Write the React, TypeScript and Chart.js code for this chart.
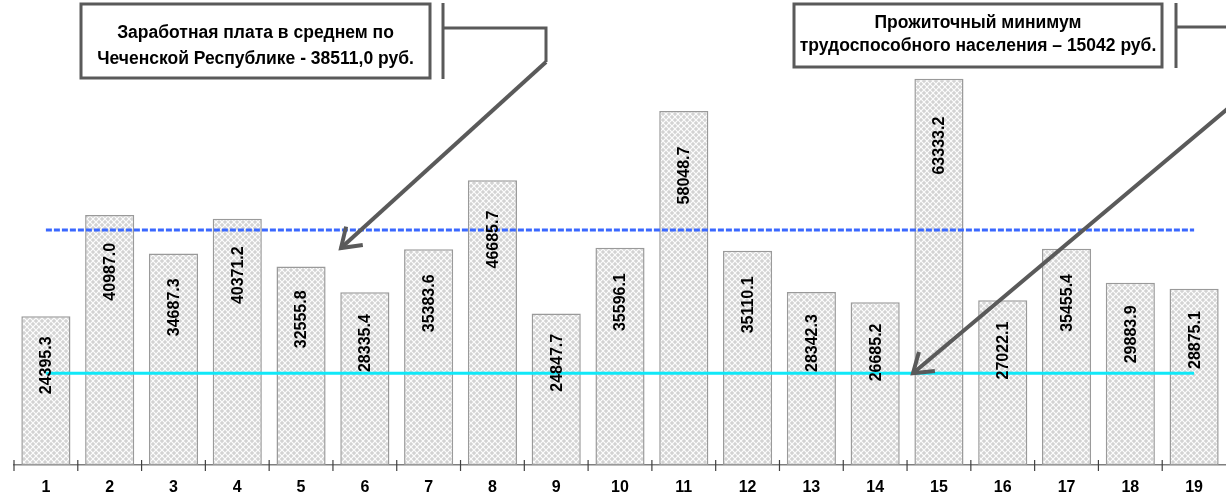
import React, { useEffect, useRef } from "react";
import { Chart, registerables } from "chart.js";

Chart.register(...registerables);

const categories = ["1", "2", "3", "4", "5", "6", "7", "8", "9", "10", "11", "12", "13", "14", "15", "16", "17", "18", "19"];
const wages = [24395.3, 40987.0, 34687.3, 40371.2, 32555.8, 28335.4, 35383.6, 46685.7, 24847.7, 35596.1, 58048.7, 35110.1, 28342.3, 26685.2, 63333.2, 27022.1, 35455.4, 29883.9, 28875.1];
const averageWage = 38511.0;
const subsistenceMinimum = 15042;
const calloutAverage = ["Заработная плата в среднем по", "Чеченской Республике - 38511,0 руб."];
const calloutMinimum = ["Прожиточный минимум", "трудоспособного населения – 15042 руб."];

const FONT = '"Liberation Sans", Arial, sans-serif';

function makePattern(): CanvasPattern | string {
  const c = document.createElement("canvas");
  c.width = 6;
  c.height = 6;
  const g = c.getContext("2d");
  if (!g) return "#dddddd";
  g.fillStyle = "#d3d3d3";
  g.fillRect(0, 0, 6, 6);
  g.strokeStyle = "rgba(255,255,255,0.95)";
  g.lineWidth = 1.2;
  g.beginPath();
  g.moveTo(0, 0);
  g.lineTo(6, 6);
  g.moveTo(6, 0);
  g.lineTo(0, 6);
  g.stroke();
  const p = g.createPattern(c, "repeat");
  return p || "#dddddd";
}

function arrowHead(ctx: CanvasRenderingContext2D, fx: number, fy: number, tx: number, ty: number) {
  const ang = Math.atan2(ty - fy, tx - fx);
  const len = 22;
  const spread = 0.6;
  ctx.beginPath();
  ctx.moveTo(tx - len * Math.cos(ang - spread), ty - len * Math.sin(ang - spread));
  ctx.lineTo(tx, ty);
  ctx.lineTo(tx - len * Math.cos(ang + spread), ty - len * Math.sin(ang + spread));
  ctx.stroke();
}

const overlayPlugin = {
  id: "overlay",
  afterDraw(chart: any) {
    const ctx: CanvasRenderingContext2D = chart.ctx;
    const xs = chart.scales.x;
    const ys = chart.scales.y;
    const area = chart.chartArea;
    ctx.save();

    // axis tick marks at category boundaries
    const step = xs.getPixelForValue(1) - xs.getPixelForValue(0);
    ctx.strokeStyle = "#404040";
    ctx.lineWidth = 1.2;
    for (let i = 0; i < categories.length; i++) {
      const bx = xs.getPixelForValue(i) - step / 2;
      ctx.beginPath();
      ctx.moveTo(bx, area.bottom - 5);
      ctx.lineTo(bx, area.bottom + 6);
      ctx.stroke();
    }

    // data labels (rotated)
    const meta = chart.getDatasetMeta(0);
    ctx.fillStyle = "#000";
    ctx.font = `bold 16px ${FONT}`;
    ctx.textAlign = "center";
    ctx.textBaseline = "middle";
    meta.data.forEach((el: any, i: number) => {
      const h = el.base - el.y;
      ctx.save();
      ctx.translate(el.x + 1, el.y + 38 + 0.075 * h);
      ctx.rotate(-Math.PI / 2);
      ctx.fillText(wages[i].toFixed(1), 0, 0);
      ctx.restore();
    });

    // callouts
    const drawBox = (x: number, y: number, w: number, h: number, lines: string[], ly: number[]) => {
      ctx.fillStyle = "#fff";
      ctx.fillRect(x, y, w, h);
      ctx.strokeStyle = "#5a5a5a";
      ctx.lineWidth = 3;
      ctx.strokeRect(x, y, w, h);
      ctx.fillStyle = "#000";
      ctx.font = `bold 17.5px ${FONT}`;
      ctx.textAlign = "center";
      ctx.textBaseline = "middle";
      lines.forEach((t, k) => ctx.fillText(t, x + w / 2, ly[k]));
    };

    drawBox(81, 4, 349, 74, calloutAverage, [33, 59]);
    drawBox(794, 4, 368, 63, calloutMinimum, [23, 46]);

    ctx.strokeStyle = "#5a5a5a";
    ctx.lineCap = "butt";
    ctx.lineWidth = 3;
    // bracket 1
    ctx.beginPath();
    ctx.moveTo(443, 3);
    ctx.lineTo(443, 79);
    ctx.moveTo(443, 28);
    ctx.lineTo(546, 28);
    ctx.lineTo(546, 62);
    ctx.stroke();
    ctx.lineWidth = 4;
    ctx.beginPath();
    ctx.moveTo(546, 62);
    ctx.lineTo(341, 248);
    ctx.stroke();
    arrowHead(ctx, 546, 62, 341, 248);

    // bracket 2
    ctx.lineWidth = 3;
    ctx.beginPath();
    ctx.moveTo(1176, 3);
    ctx.lineTo(1176, 68);
    ctx.moveTo(1176, 27);
    ctx.lineTo(1226, 27);
    ctx.stroke();
    const tipY = ys.getPixelForValue(subsistenceMinimum);
    ctx.lineWidth = 4;
    ctx.beginPath();
    ctx.moveTo(1232, 105);
    ctx.lineTo(913, tipY);
    ctx.stroke();
    arrowHead(ctx, 1232, 105, 913, tipY);

    ctx.restore();
  },
};

export default function App() {
  const ref = useRef<HTMLCanvasElement | null>(null);
  useEffect(() => {
    if (!ref.current) return;
    const pattern = makePattern();
    const chart = new Chart(ref.current, {
      type: "bar",
      data: {
        labels: categories,
        datasets: [
          {
            type: "bar",
            data: wages,
            backgroundColor: pattern as any,
            borderColor: "#9a9a9a",
            borderWidth: 1.5,
            borderSkipped: false,
            barPercentage: 0.77,
            categoryPercentage: 1,
            order: 2,
          },
          {
            type: "line",
            data: categories.map(() => averageWage),
            borderColor: "#3a68ff",
            borderWidth: 3,
            borderDash: [6, 2],
            pointRadius: 0,
            fill: false,
            order: 1,
          },
          {
            type: "line",
            data: categories.map(() => subsistenceMinimum),
            borderColor: "#10e8f8",
            borderWidth: 3,
            pointRadius: 0,
            fill: false,
            order: 0,
          },
        ],
      },
      options: {
        responsive: true,
        maintainAspectRatio: false,
        animation: false,
        layout: { padding: { top: 38, left: 14, right: 0, bottom: 0 } },
        plugins: { legend: { display: false }, tooltip: { enabled: false } },
        scales: {
          x: {
            grid: { display: false, drawTicks: false, tickLength: 0 },
            border: { display: true, color: "#7f7f7f", width: 1.5 },
            ticks: { color: "#000", font: { family: FONT, size: 16, weight: "bold" }, padding: 13, maxRotation: 0, autoSkip: false },
            afterFit: (scale: any) => {
              scale.height = 34;
            },
          },
          y: { display: false, min: 0, max: 70000 },
        },
      },
      plugins: [overlayPlugin],
    });
    return () => chart.destroy();
  }, []);
  return (
    <div style={{ position: "absolute", left: 0, top: 0, width: 1226, height: 499, background: "#fff" }}>
      <canvas ref={ref} />
    </div>
  );
}
